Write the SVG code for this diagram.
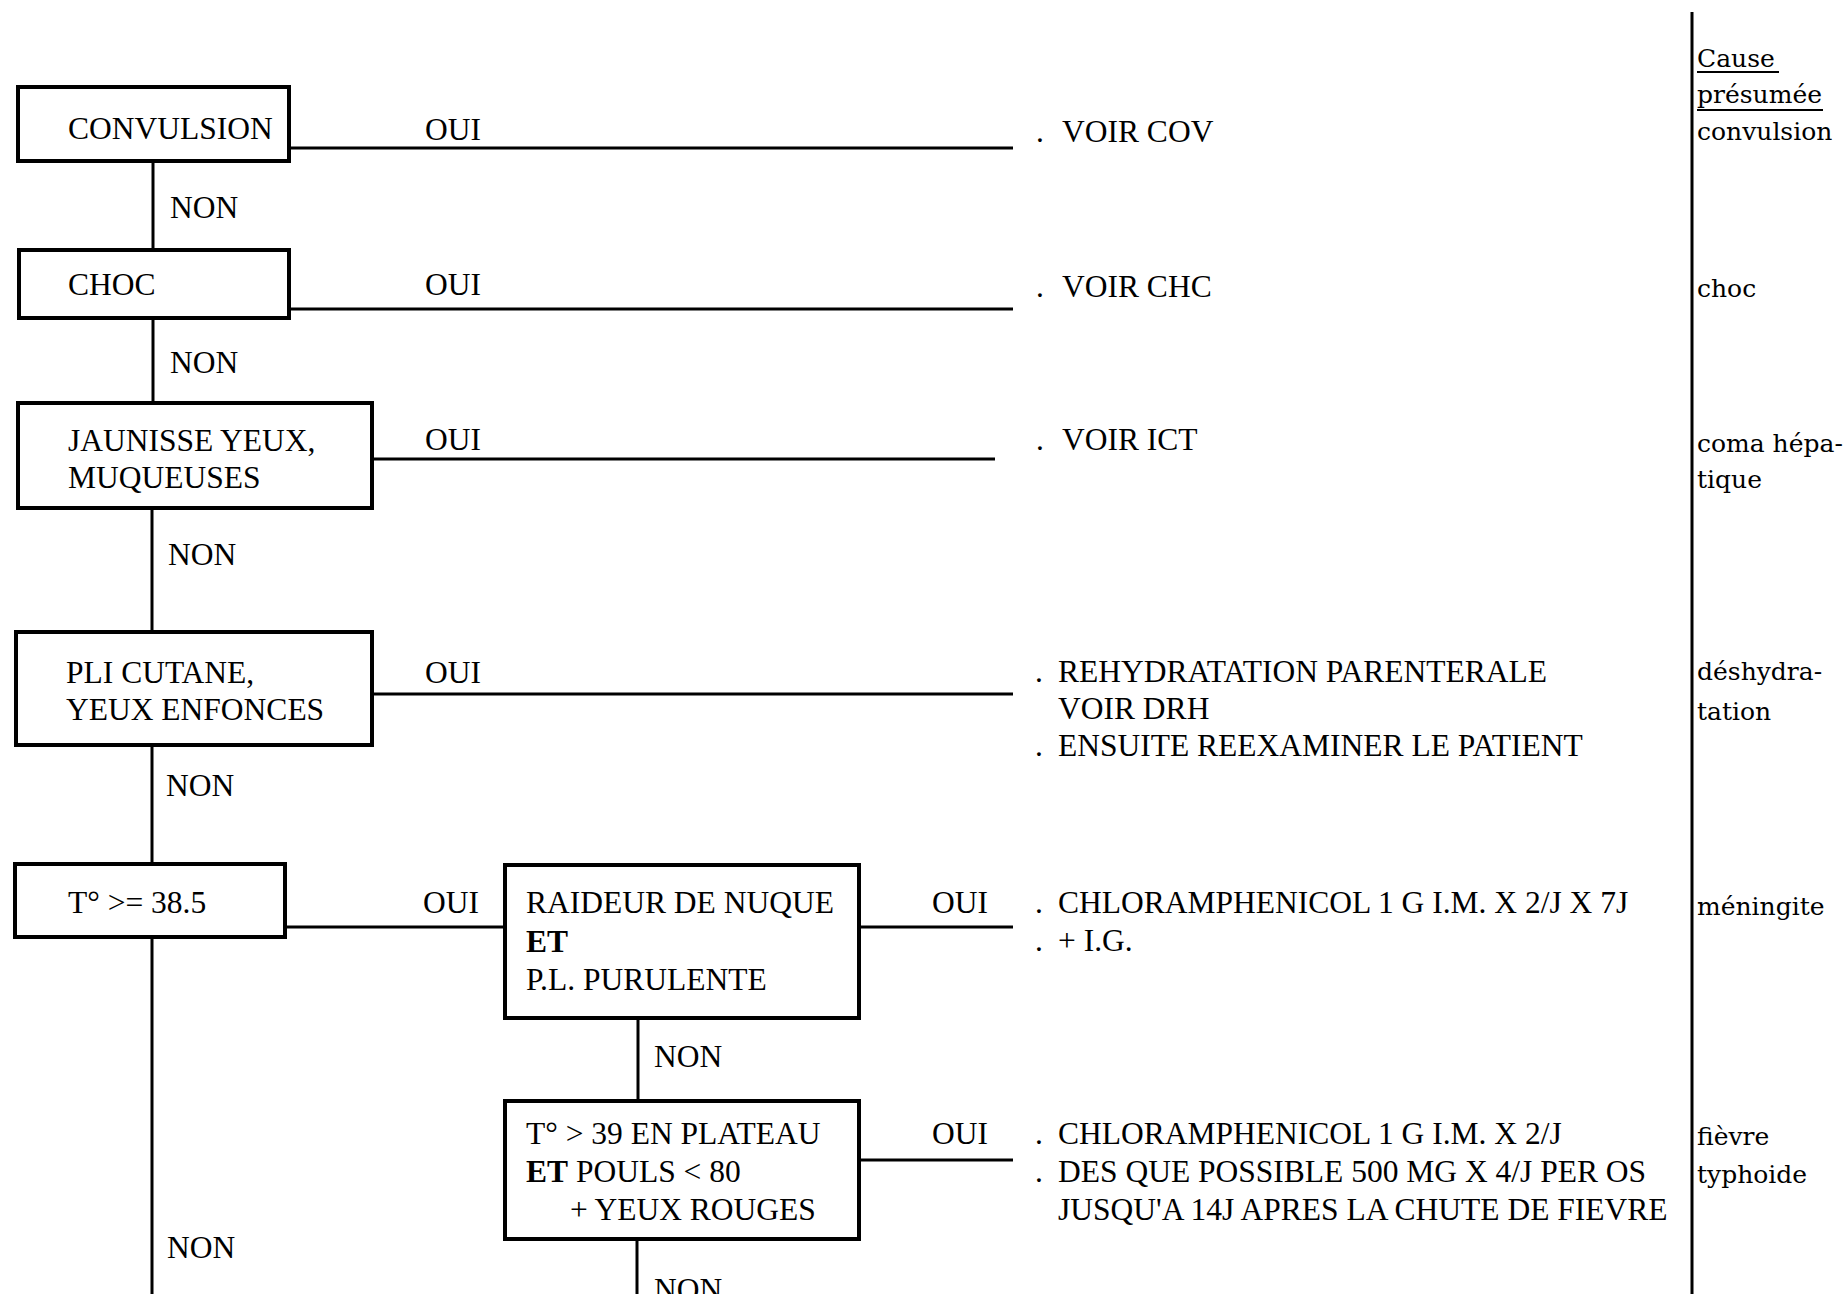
<svg xmlns="http://www.w3.org/2000/svg" width="1848" height="1294" viewBox="0 0 1848 1294">
<style>
.bg{fill:#ffffff}
.box{fill:#ffffff;stroke:#000000;stroke-width:4}
.ln{stroke:#000000;stroke-width:3;fill:none}
.t{font-family:"Liberation Serif","Times New Roman",serif;font-size:31.5px;fill:#000000}
.b{font-weight:bold}
.c{font-family:"DejaVu Serif","Liberation Serif",serif;font-size:25px;fill:#000000}
</style>
<rect class="bg" x="0" y="0" width="1848" height="1294"/>

<g id="connectors">
  <line class="ln" x1="153" y1="161" x2="153" y2="250"/>
  <line class="ln" x1="153" y1="318" x2="153" y2="403"/>
  <line class="ln" x1="152" y1="508" x2="152" y2="632"/>
  <line class="ln" x1="152" y1="745" x2="152" y2="864"/>
  <line class="ln" x1="152" y1="937" x2="152" y2="1294"/>
  <line class="ln" x1="289" y1="148" x2="1013" y2="148"/>
  <line class="ln" x1="289" y1="309" x2="1013" y2="309"/>
  <line class="ln" x1="372" y1="459" x2="995" y2="459"/>
  <line class="ln" x1="372" y1="694" x2="1013" y2="694"/>
  <line class="ln" x1="285" y1="927" x2="503" y2="927"/>
  <line class="ln" x1="859" y1="927" x2="1013" y2="927"/>
  <line class="ln" x1="638" y1="1018" x2="638" y2="1101"/>
  <line class="ln" x1="859" y1="1160" x2="1013" y2="1160"/>
  <line class="ln" x1="637" y1="1239" x2="637" y2="1294"/>
  <text class="t" x="425" y="140">OUI</text>
  <text class="t" x="425" y="295">OUI</text>
  <text class="t" x="425" y="450">OUI</text>
  <text class="t" x="425" y="683">OUI</text>
  <text class="t" x="423" y="913">OUI</text>
  <text class="t" x="932" y="913">OUI</text>
  <text class="t" x="932" y="1144">OUI</text>
  <text class="t" x="170" y="218">NON</text>
  <text class="t" x="170" y="373">NON</text>
  <text class="t" x="168" y="565">NON</text>
  <text class="t" x="166" y="796">NON</text>
  <text class="t" x="167" y="1258">NON</text>
  <text class="t" x="654" y="1067">NON</text>
  <text class="t" x="654" y="1300">NON</text>
</g>

<g id="n-convulsion">
  <rect class="box" x="18" y="87" width="271" height="74"/>
  <text class="t" x="68" y="139">CONVULSION</text>
</g>
<g id="n-choc">
  <rect class="box" x="19" y="250" width="270" height="68"/>
  <text class="t" x="68" y="295">CHOC</text>
</g>
<g id="n-jaunisse">
  <rect class="box" x="18" y="403" width="354" height="105"/>
  <text class="t" x="68" y="451">JAUNISSE YEUX,</text>
  <text class="t" x="68" y="488">MUQUEUSES</text>
</g>
<g id="n-pli">
  <rect class="box" x="16" y="632" width="356" height="113"/>
  <text class="t" x="66" y="683">PLI CUTANE,</text>
  <text class="t" x="66" y="720">YEUX ENFONCES</text>
</g>
<g id="n-temp">
  <rect class="box" x="15" y="864" width="270" height="73"/>
  <text class="t" x="68" y="913">T° &gt;= 38.5</text>
</g>
<g id="n-raideur">
  <rect class="box" x="505" y="865" width="354" height="153"/>
  <text class="t" x="526" y="913">RAIDEUR DE NUQUE</text>
  <text class="t b" x="526" y="952">ET</text>
  <text class="t" x="526" y="990">P.L. PURULENTE</text>
</g>
<g id="n-plateau">
  <rect class="box" x="505" y="1101" width="354" height="138"/>
  <text class="t" x="526" y="1144">T° &gt; 39 EN PLATEAU</text>
  <text class="t" x="526" y="1182"><tspan class="b">ET</tspan> POULS &lt; 80</text>
  <text class="t" x="570" y="1220">+ YEUX ROUGES</text>
</g>

<g id="r-cov">
  <text class="t" x="1036" y="142">.</text>
  <text class="t" x="1062" y="142">VOIR COV</text>
</g>
<g id="r-chc">
  <text class="t" x="1036" y="297">.</text>
  <text class="t" x="1062" y="297">VOIR CHC</text>
</g>
<g id="r-ict">
  <text class="t" x="1036" y="450">.</text>
  <text class="t" x="1062" y="450">VOIR ICT</text>
</g>
<g id="r-drh">
  <text class="t" x="1035" y="682">.</text>
  <text class="t" x="1058" y="682">REHYDRATATION PARENTERALE</text>
  <text class="t" x="1058" y="719">VOIR DRH</text>
  <text class="t" x="1035" y="756">.</text>
  <text class="t" x="1058" y="756">ENSUITE REEXAMINER LE PATIENT</text>
</g>
<g id="r-meningite">
  <text class="t" x="1035" y="913">.</text>
  <text class="t" x="1058" y="913">CHLORAMPHENICOL 1 G I.M. X 2/J X 7J</text>
  <text class="t" x="1035" y="951">.</text>
  <text class="t" x="1058" y="951">+ I.G.</text>
</g>
<g id="r-typhoide">
  <text class="t" x="1035" y="1144">.</text>
  <text class="t" x="1058" y="1144">CHLORAMPHENICOL 1 G I.M. X 2/J</text>
  <text class="t" x="1035" y="1182">.</text>
  <text class="t" x="1058" y="1182">DES QUE POSSIBLE 500 MG X 4/J PER OS</text>
  <text class="t" x="1058" y="1220">JUSQU'A 14J APRES LA CHUTE DE FIEVRE</text>
</g>

<g id="cause-column">
  <line class="ln" x1="1692" y1="12" x2="1692" y2="1294"/>
  <text class="c" x="1697" y="67">Cause</text>
  <line x1="1697" y1="72" x2="1779" y2="72" stroke="#000" stroke-width="2"/>
  <text class="c" x="1697" y="103">présumée</text>
  <line x1="1697" y1="110" x2="1823" y2="110" stroke="#000" stroke-width="2"/>
  <text class="c" x="1697" y="140">convulsion</text>
  <text class="c" x="1697" y="297">choc</text>
  <text class="c" x="1697" y="452">coma hépa-</text>
  <text class="c" x="1697" y="488">tique</text>
  <text class="c" x="1697" y="680">déshydra-</text>
  <text class="c" x="1697" y="720">tation</text>
  <text class="c" x="1697" y="915">méningite</text>
  <text class="c" x="1697" y="1145">fièvre</text>
  <text class="c" x="1697" y="1183">typhoide</text>
</g>
</svg>
